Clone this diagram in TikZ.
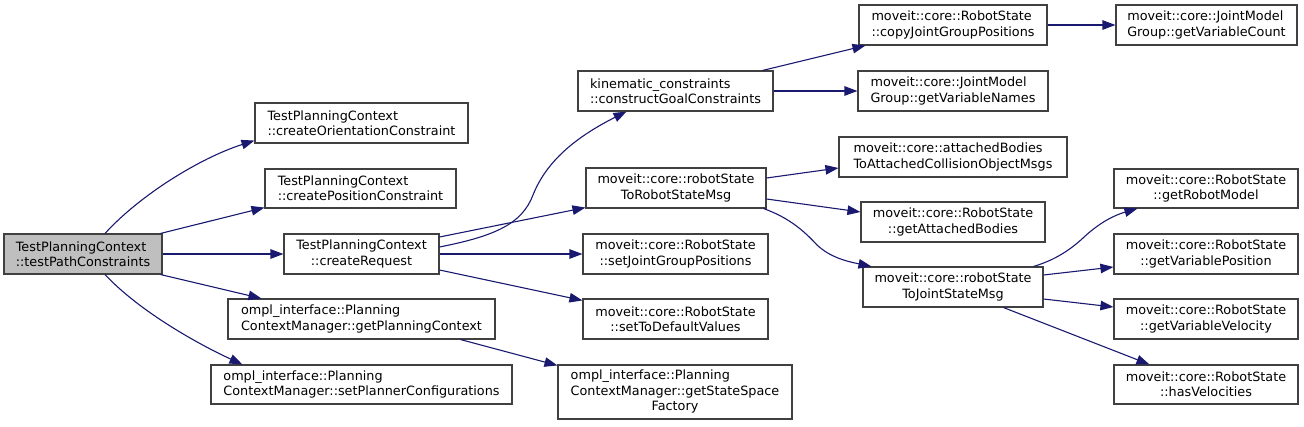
\documentclass[tikz,border=0pt]{standalone}
\usepackage{fontspec}
\setmainfont{DejaVu Sans}
\usetikzlibrary{arrows.meta}
\definecolor{edgec}{HTML}{191970}
\definecolor{boxc}{HTML}{404040}
\definecolor{mainfill}{HTML}{BFBFBF}
\begin{document}
\begin{tikzpicture}[x=1pt,y=-1pt,
  font=\fontsize{12.8}{15.3}\selectfont,
  nbox/.style={draw=boxc, line width=1.1pt, fill=white, inner sep=0pt, text=black, minimum height=40pt},
  lbox/.style={nbox, align=left},
  cbox/.style={nbox, align=center},
  edge/.style={draw=edgec, line width=1.1pt, -{Triangle[length=13pt,width=9.5pt]}}]
\useasboundingbox (0,0) rectangle (1304,426);

% column 1
\node[lbox, fill=mainfill, minimum width=158pt] (main) at (83,254) {TestPlanningContext\\::testPathConstraints};
% column 2
\node[lbox, minimum width=213pt] (coc) at (361.5,123) {TestPlanningContext\\::createOrientationConstraint};
\node[lbox, minimum width=191pt, minimum height=39pt] (cpc) at (360.5,188.5) {TestPlanningContext\\::createPositionConstraint};
\node[cbox, minimum width=155pt] (creq) at (361.5,254) {TestPlanningContext\\::createRequest};
\node[lbox, minimum width=267pt] (gpc) at (361.5,319) {ompl\_interface::Planning\\ContextManager::getPlanningContext};
\node[lbox, minimum width=301pt, minimum height=39pt] (spc) at (361.5,384.5) {ompl\_interface::Planning\\ContextManager::setPlannerConfigurations};
% column 3
\node[lbox, minimum width=195pt] (cgc) at (675.5,91) {kinematic\_constraints\\::constructGoalConstraints};
\node[cbox, minimum width=180pt] (rsrsm) at (676,188) {moveit::core::robotState\\ToRobotStateMsg};
\node[cbox, minimum width=185pt] (sjgp) at (675.5,254) {moveit::core::RobotState\\::setJointGroupPositions};
\node[cbox, minimum width=185pt] (stdv) at (675.5,319) {moveit::core::RobotState\\::setToDefaultValues};
\node[nbox, minimum width=234pt, minimum height=54pt] (gssf) at (675,392) {\begin{tabular}{@{}l@{}}ompl\_interface::Planning\\ContextManager::getStateSpace\\\multicolumn{1}{@{}c@{}}{Factory}\end{tabular}};
% column 4
\node[lbox, minimum width=188pt] (cjgp) at (953,25) {moveit::core::RobotState\\::copyJointGroupPositions};
\node[lbox, minimum width=190pt] (gvn) at (953,91) {moveit::core::JointModel\\Group::getVariableNames};
\node[lbox, minimum width=228pt] (abt) at (953,157) {moveit::core::attachedBodies\\ToAttachedCollisionObjectMsgs};
\node[cbox, minimum width=184pt] (gab) at (953,222) {moveit::core::RobotState\\::getAttachedBodies};
\node[cbox, minimum width=180pt] (rstjsm) at (953,287) {moveit::core::robotState\\ToJointStateMsg};
% column 5
\node[lbox, minimum width=181pt] (gvc) at (1206.5,25) {moveit::core::JointModel\\Group::getVariableCount};
\node[cbox, minimum width=184pt, minimum height=39pt] (grm) at (1206,188.5) {moveit::core::RobotState\\::getRobotModel};
\node[cbox, minimum width=184pt] (gvp) at (1206,254) {moveit::core::RobotState\\::getVariablePosition};
\node[cbox, minimum width=184pt] (gvv) at (1206,319) {moveit::core::RobotState\\::getVariableVelocity};
\node[cbox, minimum width=184pt, minimum height=39pt] (hv) at (1206,384.5) {moveit::core::RobotState\\::hasVelocities};

% edges
\draw[edge] ([xshift=22pt]main.north) .. controls (140,195) and (200,158) .. ([yshift=3pt]coc.south west);
\draw[edge] ([xshift=-2pt]main.north east) -- ([yshift=1pt]cpc.south west);
\draw[edge] (main.east) -- (creq.west);
\draw[edge] ([xshift=-2pt]main.south east) -- ([xshift=34pt]gpc.north west);
\draw[edge] ([xshift=22pt]main.south) .. controls (140,312) and (200,345) .. ([xshift=32pt]spc.north west);

\draw[edge] ([yshift=7pt]creq.east) .. controls (495,236) and (522,224) .. (533,195) .. controls (545,165) and (570,140) .. ([xshift=49pt]cgc.south west);
\draw[edge] ([yshift=17pt]creq.east) -- ([yshift=1pt]rsrsm.south west);
\draw[edge] (creq.east) -- (sjgp.west);
\draw[edge] ([yshift=-16pt]creq.east) -- ([yshift=-2pt]stdv.north west);
\draw[edge] ([xshift=-35pt]gpc.south east) -- ([yshift=-1pt]gssf.north west);

\draw[edge] ([xshift=-11pt]cgc.north east) -- ([xshift=7pt]cjgp.south west);
\draw[edge] (cgc.east) -- (gvn.west);
\draw[edge] ([yshift=10pt]rsrsm.east) -- ([yshift=-11pt]abt.west);
\draw[edge] ([yshift=-11pt]rsrsm.east) -- ([yshift=10pt]gab.west);
\draw[edge] ([xshift=-3pt]rsrsm.south east) .. controls (790,218) and (805,232) .. (817,245) .. controls (830,257) and (845,261) .. ([xshift=9pt]rstjsm.north west);

\draw[edge] (cjgp.east) -- (gvc.west);
\draw[edge] ([xshift=-10pt]rstjsm.north east) .. controls (1055,260) and (1070,250) .. (1083,238) .. controls (1100,222) and (1115,215) .. ([xshift=24pt]grm.south west);
\draw[edge] ([yshift=12pt]rstjsm.east) -- ([yshift=-13pt]gvp.west);
\draw[edge] ([yshift=-12pt]rstjsm.east) -- ([yshift=12pt]gvv.west);
\draw[edge] ([xshift=-40pt]rstjsm.south east) -- ([xshift=36pt]hv.north west);
\end{tikzpicture}
\end{document}
